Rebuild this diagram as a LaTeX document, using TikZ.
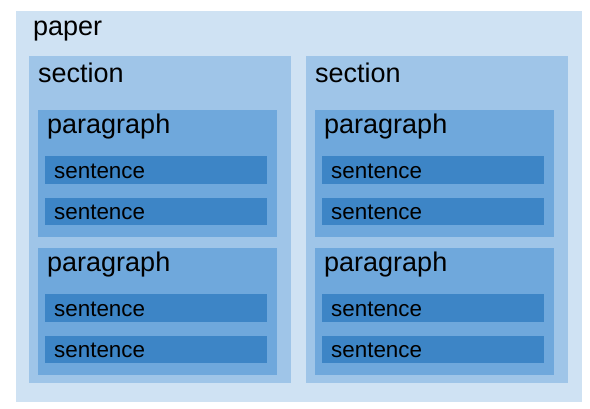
\documentclass[tikz,border=0pt]{standalone}
\usepackage{fontspec}
\setmainfont{Liberation Sans}
\definecolor{cpaper}{HTML}{CFE2F3}
\definecolor{csection}{HTML}{9FC5E8}
\definecolor{cpara}{HTML}{6FA8DC}
\definecolor{csent}{HTML}{3D85C6}
\tikzset{
  box/.style={anchor=north west, inner sep=0pt, outer sep=0pt, draw=none},
  bigtxt/.style={anchor=base west, inner sep=0pt, font=\fontsize{27}{32}\selectfont, text=black},
  smalltxt/.style={anchor=base west, inner sep=0pt, font=\fontsize{22.4}{27}\selectfont, text=black},
}
\begin{document}
\begin{tikzpicture}[x=1pt,y=-1pt]
\useasboundingbox (0,0) rectangle (590,408);
\node[box, fill=cpaper, minimum width=566pt, minimum height=391pt] (paper) at (16,11) {};
\node[bigtxt] (papertxt) at (33,35) {paper};
\foreach \c/\dx in {1/0,2/277}{
  \node[box, fill=csection, minimum width=262pt, minimum height=327pt] (sec\c) at (29+\dx,56) {};
  \node[bigtxt] (sectxt\c) at (38+\dx,82) {section};
  \foreach \p/\dy in {1/0,2/138}{
    \node[box, fill=cpara, minimum width=239pt, minimum height=127pt] (par\c\p) at (38+\dx,110+\dy) {};
    \node[bigtxt] (partxt\c\p) at (47+\dx,133+\dy) {paragraph};
    \node[box, fill=csent, minimum width=222pt, minimum height=28pt] (sen\c\p a) at (45+\dx,156+\dy) {};
    \node[smalltxt] (sentxt\c\p a) at (54+\dx,178+\dy) {sentence};
    \node[box, fill=csent, minimum width=222pt, minimum height=27pt] (sen\c\p b) at (45+\dx,198+\dy) {};
    \node[smalltxt] (sentxt\c\p b) at (54+\dx,219+\dy) {sentence};
  }
}
\end{tikzpicture}
\end{document}
